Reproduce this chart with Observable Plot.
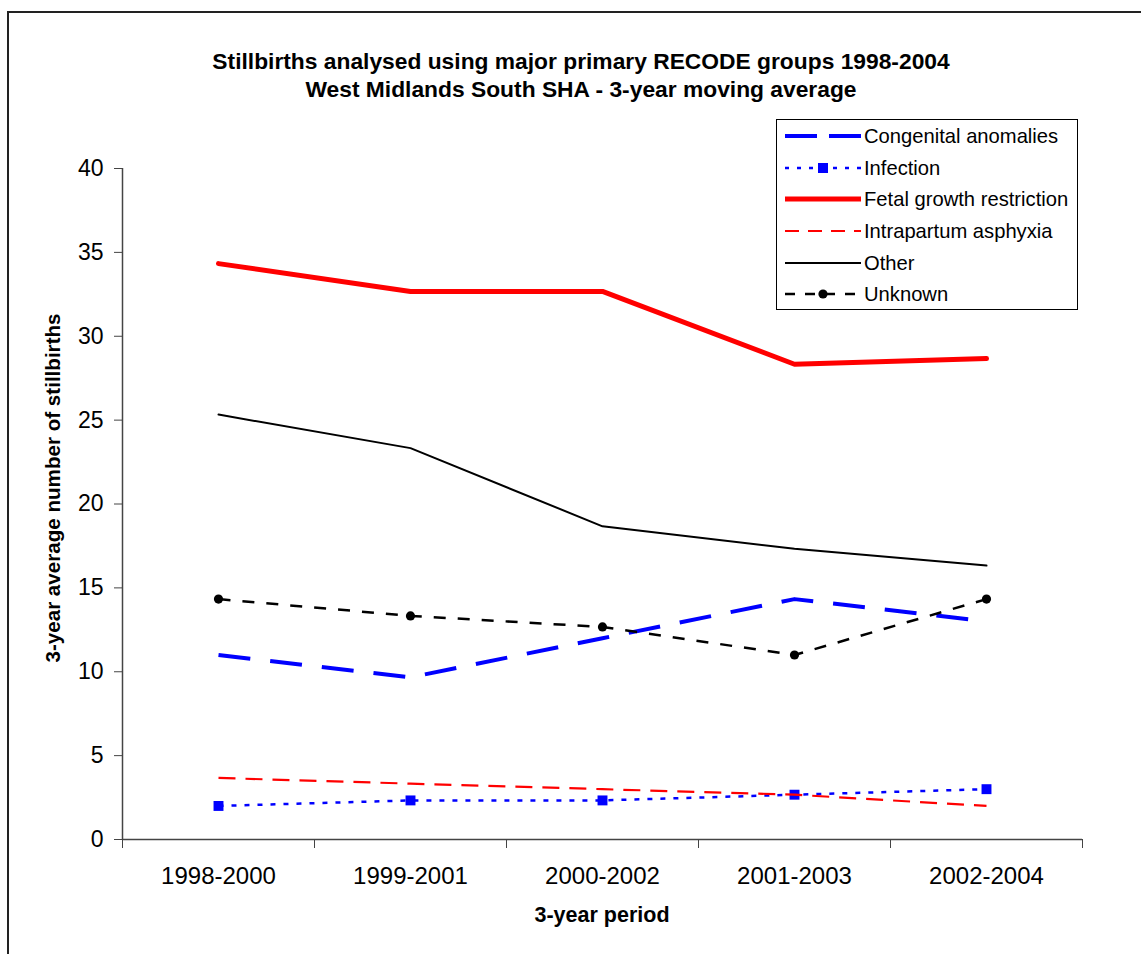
<!DOCTYPE html>
<html>
<head>
<meta charset="utf-8">
<script src="https://cdn.jsdelivr.net/npm/d3@7"></script>
<script src="https://cdn.jsdelivr.net/npm/@observablehq/plot@0.6"></script>
<style>
  html, body { margin: 0; padding: 0; background: #fff; overflow: hidden; }
  #wrap { position: relative; width: 1141px; height: 954px; font-family: "Liberation Sans", Arial, sans-serif; color: #000; }
  #frame { position: absolute; left: 7px; top: 11px; width: 1200px; height: 1000px; border: 2px solid #222; box-sizing: border-box; }
  #chart { position: absolute; left: 0; top: 0; }
  .title { position: absolute; left: 0; width: 1162px; text-align: center; font-weight: bold; font-size: 22.8px; white-space: nowrap; }
  #ytitle { position: absolute; left: 53px; top: 488px; transform: translate(-50%, -50%) rotate(-90deg); font-weight: bold; font-size: 20.6px; white-space: nowrap; }
  #xtitle { position: absolute; left: 602px; top: 915px; transform: translate(-50%, -50%); font-weight: bold; font-size: 21.5px; white-space: nowrap; }
  #legend { position: absolute; left: 776px; top: 119px; width: 302px; height: 191px; border: 1.5px solid #000; box-sizing: border-box; background: #fff; }
  .lrow { position: absolute; left: 0; height: 24px; display: flex; align-items: center; font-size: 20.2px; white-space: nowrap; }
  .lrow svg { margin-left: 8px; margin-right: 3px; }
</style>
</head>
<body>
<div id="wrap">
  <div id="frame"></div>
  <div id="chart"></div>
  <div class="title" style="top:48px">Stillbirths analysed using major primary RECODE groups 1998-2004</div>
  <div class="title" style="top:76px">West Midlands South SHA - 3-year moving average</div>
  <div id="ytitle">3-year average number of stillbirths</div>
  <div id="xtitle">3-year period</div>
  <div id="legend"></div>
</div>
<script>
// ---- data ----
const periods = ["1998-2000", "1999-2001", "2000-2002", "2001-2003", "2002-2004"];
const congenitalAnomalies = [11, 9.67, 12, 14.33, 13];
const infection = [2, 2.33, 2.33, 2.67, 3];
const fetalGrowthRestriction = [34.33, 32.67, 32.67, 28.33, 28.67];
const intrapartumAsphyxia = [3.67, 3.33, 3, 2.67, 2];
const other = [25.33, 23.33, 18.67, 17.33, 16.33];
const unknown = [14.33, 13.33, 12.67, 11, 14.33];
const yTicks = [0, 5, 10, 15, 20, 25, 30, 35, 40];

// ---- series styling ----
const series = [
  {name: "Congenital anomalies", values: congenitalAnomalies, stroke: "#0000ff", width: 4, dash: "32,20", legendDash: "32,12", marker: null},
  {name: "Infection", values: infection, stroke: "#0000ff", width: 2.5, dash: "5,8", legendDash: "4,8", marker: "square"},
  {name: "Fetal growth restriction", values: fetalGrowthRestriction, stroke: "#ff0000", width: 5, dash: null, marker: null},
  {name: "Intrapartum asphyxia", values: intrapartumAsphyxia, stroke: "#ff0000", width: 2.2, dash: "17,10", legendDash: "14,9", marker: null},
  {name: "Other", values: other, stroke: "#000000", width: 2, dash: null, marker: null},
  {name: "Unknown", values: unknown, stroke: "#000000", width: 2.5, dash: "12,12", legendDash: "10,10", marker: "circle"}
];

const rows = series.map(s => s.values.map((v, i) => ({x: i + 0.5, y: v, name: s.name})));

const marks = [
  Plot.ruleY([0], {stroke: "#444", strokeWidth: 1.5}),
  Plot.ruleX([0], {stroke: "#444", strokeWidth: 1.5}),
  Plot.axisY({ticks: yTicks, tickSize: 8, tickPadding: 11, label: null, stroke: "#444", fontSize: 23}),
  Plot.axisX({ticks: d3.range(periods.length + 1), tickSize: 9, tickFormat: () => "", label: null, stroke: "#444"}),
  Plot.axisX({ticks: periods.map((p, i) => i + 0.5), tickSize: 0, tickPadding: 27, tickFormat: d => periods[Math.floor(d)], label: null, fontSize: 24})
];
series.forEach((s, k) => {
  marks.push(Plot.line(rows[k], {x: "x", y: "y", stroke: s.stroke, strokeWidth: s.width,
    strokeDasharray: s.dash || undefined, strokeLinecap: s.dash ? "butt" : "round", strokeLinejoin: "round"}));
  if (s.marker === "square") marks.push(Plot.dot(rows[k], {x: "x", y: "y", symbol: "square", r: 5.6, fill: s.stroke, stroke: "none"}));
  if (s.marker === "circle") marks.push(Plot.dot(rows[k], {x: "x", y: "y", symbol: "circle", r: 4.6, fill: s.stroke, stroke: "none"}));
});

const chart = Plot.plot({
  width: 1141, height: 954,
  marginLeft: 122, marginRight: 59, marginTop: 168, marginBottom: 115,
  style: {fontFamily: "'Liberation Sans', Arial, sans-serif", fontSize: "22px", color: "#000", background: "transparent"},
  x: {type: "linear", domain: [0, periods.length], axis: null},
  y: {domain: [0, 40], axis: null},
  marks
});
document.getElementById("chart").appendChild(chart);

// ---- legend ----
const legend = document.getElementById("legend");
const rowY = [4, 36, 67, 99, 131, 162];
const ns = "http://www.w3.org/2000/svg";
series.forEach((s, k) => {
  const row = document.createElement("div");
  row.className = "lrow";
  row.style.top = rowY[k] + "px";
  const svg = document.createElementNS(ns, "svg");
  svg.setAttribute("width", 76); svg.setAttribute("height", 16);
  const line = document.createElementNS(ns, "line");
  line.setAttribute("x1", 0); line.setAttribute("x2", 76); line.setAttribute("y1", 8); line.setAttribute("y2", 8);
  line.setAttribute("stroke", s.stroke); line.setAttribute("stroke-width", s.width);
  if (s.dash) line.setAttribute("stroke-dasharray", s.legendDash);
  else line.setAttribute("stroke-linecap", "round");
  svg.appendChild(line);
  if (s.marker === "square") {
    const r = document.createElementNS(ns, "rect");
    r.setAttribute("x", 33); r.setAttribute("y", 3); r.setAttribute("width", 10); r.setAttribute("height", 10); r.setAttribute("fill", s.stroke);
    svg.appendChild(r);
  }
  if (s.marker === "circle") {
    const c = document.createElementNS(ns, "circle");
    c.setAttribute("cx", 38); c.setAttribute("cy", 8); c.setAttribute("r", 4.6); c.setAttribute("fill", s.stroke);
    svg.appendChild(c);
  }
  row.appendChild(svg);
  const t = document.createElement("span");
  t.textContent = s.name;
  row.appendChild(t);
  legend.appendChild(row);
});
</script>
</body>
</html>
